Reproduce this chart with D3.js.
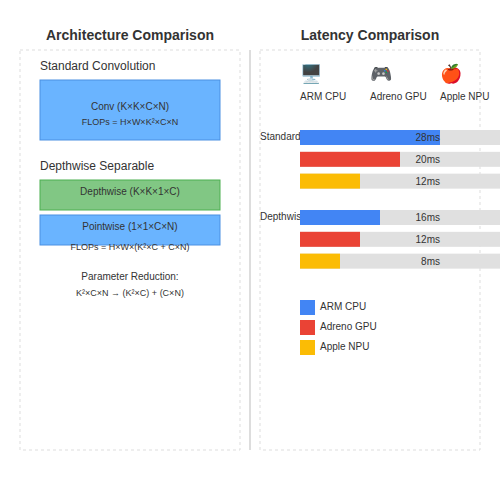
<!DOCTYPE html>
<html><head><meta charset="utf-8">
<script src="https://cdn.jsdelivr.net/npm/d3@7"></script>
<style>body{margin:0;background:#fff}text{font-family:"Liberation Sans",Arial,sans-serif}</style>
</head><body><svg width="500" height="500"></svg>
<script>
// Data
const methods = ["Standard", "Depthwise"];
const devices = ["ARM CPU", "Adreno GPU", "Apple NPU"];
const icons = ["\u{1F5A5}\uFE0F", "\u{1F3AE}", "\u{1F34E}"];
const latency = [[28, 20, 12], [16, 12, 8]];
const colors = ["#4285f4", "#ea4335", "#fbbc05"];

const svg = d3.select("svg");
const mono = "'DejaVu Sans Mono', monospace";

// Panels
svg.append("rect").attr("x", 20).attr("y", 50).attr("width", 220).attr("height", 400)
    .attr("fill", "none").attr("stroke", "#ddd").attr("stroke-dasharray", "3,3");
svg.append("rect").attr("x", 260).attr("y", 50).attr("width", 220).attr("height", 400)
    .attr("fill", "none").attr("stroke", "#ddd").attr("stroke-dasharray", "3,3");
svg.append("line").attr("x1", 250).attr("x2", 250).attr("y1", 50).attr("y2", 450)
    .attr("stroke", "#ddd").attr("stroke-width", 2);

svg.append("text").attr("x", 130).attr("y", 40).attr("text-anchor", "middle")
    .attr("font-size", 14).attr("font-weight", "bold").attr("fill", "#333").text("Architecture Comparison");
svg.append("text").attr("x", 370).attr("y", 40).attr("text-anchor", "middle")
    .attr("font-size", 14).attr("font-weight", "bold").attr("fill", "#333").text("Latency Comparison");

// Left panel
const left = svg.append("g");
left.append("text").attr("x", 40).attr("y", 70).attr("font-size", 12).attr("fill", "#333").text("Standard Convolution");
left.append("rect").attr("x", 40).attr("y", 80).attr("width", 180).attr("height", 60)
    .attr("fill", "#6ab4ff").attr("stroke", "#4a90e2");
left.append("text").attr("x", 130).attr("y", 110).attr("text-anchor", "middle").attr("font-size", 10).attr("fill", "#333").text("Conv (K×K×C×N)");
left.append("text").attr("x", 130).attr("y", 125).attr("text-anchor", "middle").attr("font-size", 9).attr("font-family", mono).attr("fill", "#333").text("FLOPs = H×W×K²×C×N");

left.append("text").attr("x", 40).attr("y", 170).attr("font-size", 12).attr("fill", "#333").text("Depthwise Separable");
left.append("rect").attr("x", 40).attr("y", 180).attr("width", 180).attr("height", 30)
    .attr("fill", "#81c784").attr("stroke", "#4caf50");
left.append("text").attr("x", 130).attr("y", 195).attr("text-anchor", "middle").attr("font-size", 10).attr("fill", "#333").text("Depthwise (K×K×1×C)");
left.append("rect").attr("x", 40).attr("y", 215).attr("width", 180).attr("height", 30)
    .attr("fill", "#6ab4ff").attr("stroke", "#4a90e2");
left.append("text").attr("x", 130).attr("y", 230).attr("text-anchor", "middle").attr("font-size", 10).attr("fill", "#333").text("Pointwise (1×1×C×N)");
left.append("text").attr("x", 130).attr("y", 250).attr("text-anchor", "middle").attr("font-size", 9).attr("font-family", mono).attr("fill", "#333").text("FLOPs = H×W×(K²×C + C×N)");
left.append("text").attr("x", 130).attr("y", 280).attr("text-anchor", "middle").attr("font-size", 10).attr("fill", "#333").text("Parameter Reduction:");
left.append("text").attr("x", 130).attr("y", 296).attr("text-anchor", "middle").attr("font-size", 9).attr("font-family", mono).attr("fill", "#333").text("K²×C×N → (K²×C) + (C×N)");

// Right panel: device headers
const right = svg.append("g");
devices.forEach((d, i) => {
    right.append("text").attr("x", 300 + i * 70).attr("y", 80).attr("font-size", 18).attr("fill", "#555").text(icons[i]);
    right.append("text").attr("x", 300 + i * 70).attr("y", 100).attr("font-size", 10).attr("fill", "#333").text(d);
});

const x = d3.scaleLinear().domain([0, 40]).range([300, 500]);
const yGroup = d3.scaleBand().domain(methods).range([130, 290]).paddingInner(0);
const yRow = d3.scaleBand().domain(devices).range([0, 60]).paddingInner(0.25).paddingOuter(0);

methods.forEach((m, mi) => {
    const g = right.append("g").attr("transform", `translate(0,${yGroup(m)})`);
    g.append("text").attr("x", 260).attr("y", 10).attr("font-size", 10).attr("fill", "#333").text(m === "Standard" ? "Standard" : "Depthwise");
    devices.forEach((d, di) => {
        g.append("rect").attr("x", x(0)).attr("y", yRow(d)).attr("width", x(40) - x(0)).attr("height", 15).attr("fill", "#e0e0e0");
        g.append("rect").attr("x", x(0)).attr("y", yRow(d)).attr("width", x(latency[mi][di]) - x(0)).attr("height", 15).attr("fill", colors[di]);
        g.append("text").attr("x", 440).attr("y", yRow(d) + 11).attr("text-anchor", "end").attr("font-size", 10).attr("fill", "#333").text(latency[mi][di] + "ms");
    });
});

// Legend
devices.forEach((d, i) => {
    right.append("rect").attr("x", 300).attr("y", 300 + i * 20).attr("width", 15).attr("height", 15).attr("fill", colors[i]);
    right.append("text").attr("x", 320).attr("y", 310 + i * 20).attr("font-size", 10).attr("fill", "#333").text(d);
});
</script></body></html>
